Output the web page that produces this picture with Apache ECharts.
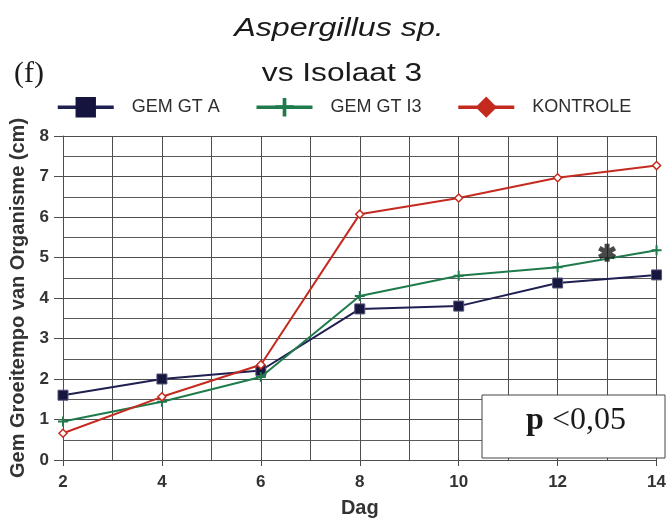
<!DOCTYPE html>
<html>
<head>
<meta charset="utf-8">
<script src="https://cdn.jsdelivr.net/npm/echarts@6/dist/echarts.min.js"></script>
<style>
  html, body { margin: 0; padding: 0; background: #fff; }
  #chart { width: 669px; height: 523px; }
</style>
</head>
<body>
<div id="chart"></div>
<script>
// Day of measurement
const days = [2, 4, 6, 8, 10, 12, 14];
// Mean growth (cm) per treatment
const gemGtA = [1.6, 2.0, 2.21, 3.73, 3.8, 4.37, 4.57];
const gemGtI3 = [0.95, 1.44, 2.05, 4.05, 4.55, 4.76, 5.18];
const kontrole = [0.66, 1.56, 2.35, 6.07, 6.47, 6.97, 7.27];
// Significance marker position [day, value]
const significance = [[13, 5.12]];
const seriesNames = ['GEM GT A', 'GEM GT I3', 'KONTROLE'];
const titleText = 'Aspergillus sp.';
const subtitleText = 'vs Isolaat 3';
const panelLabel = '(f)';

const NAVY = '#1f1f52';
const GREEN = '#1f7a4c';
const RED = '#c42a1e';
const GRIDC = '#4d4d4d';
const FONT = '"Liberation Sans", Arial, sans-serif';

const plusPath = 'path://M-1,-5H1V-1H5V1H1V5H-1V1H-5V-1H-1Z';
// six-armed asterisk drawn as stroked spokes
const starPath = 'path://M0,-5L0,5M-4.33,-2.5L4.33,2.5M-4.33,2.5L4.33,-2.5';

const pairs = arr => days.map((d, i) => [d, arr[i]]);

const chart = echarts.init(document.getElementById('chart'), null, { renderer: 'canvas' });

chart.setOption({
  animation: false,
  backgroundColor: '#ffffff',
  grid: { left: 63, right: 10, top: 136, bottom: 57, show: false },
  legend: {
    left: 56,
    top: 97,
    padding: 0,
    itemWidth: 56,
    itemHeight: 23,
    itemGap: 35,
    lineStyle: { width: 3.5 },
    textStyle: {
      fontFamily: FONT,
      fontSize: 18,
      color: '#2e2e2e',
      padding: [0, 0, 0, 13]
    },
    data: [
      { name: seriesNames[0], itemStyle: { color: '#14143e', borderColor: '#14143e' } },
      { name: seriesNames[1], itemStyle: { color: GREEN, borderColor: GREEN } },
      { name: seriesNames[2], itemStyle: { color: RED, borderColor: RED } }
    ]
  },
  xAxis: {
    type: 'value',
    min: 2,
    max: 14,
    interval: 2,
    name: 'Dag',
    nameLocation: 'middle',
    nameGap: 38,
    nameTextStyle: { fontFamily: FONT, fontSize: 20, fontWeight: 'bold', color: '#333' },
    axisLine: { show: true, onZero: false, lineStyle: { color: GRIDC, width: 1 } },
    axisTick: { show: true, length: 6, lineStyle: { color: GRIDC } },
    axisLabel: { margin: 14, fontFamily: FONT, fontSize: 17, fontWeight: 'bold', color: '#333' },
    splitLine: { show: true, lineStyle: { color: GRIDC, width: 1 } },
    minorTick: { show: false, splitNumber: 2 },
    minorSplitLine: { show: true, lineStyle: { color: GRIDC, width: 1 } }
  },
  yAxis: {
    type: 'value',
    min: 0,
    max: 8,
    interval: 1,
    name: 'Gem Groeitempo van Organisme (cm)',
    nameLocation: 'middle',
    nameGap: 28,
    nameTextStyle: { fontFamily: FONT, fontSize: 20, fontWeight: 'bold', color: '#333' },
    axisLine: { show: true, lineStyle: { color: GRIDC, width: 1 } },
    axisTick: { show: true, length: 9, lineStyle: { color: GRIDC } },
    axisLabel: { margin: 14, fontFamily: FONT, fontSize: 17, fontWeight: 'bold', color: '#333' },
    splitLine: { show: true, lineStyle: { color: GRIDC, width: 1 } },
    minorTick: { show: false, splitNumber: 2 },
    minorSplitLine: { show: true, lineStyle: { color: '#5a5a5a', width: 1 } }
  },
  series: [
    {
      name: seriesNames[0],
      type: 'line',
      data: pairs(gemGtA),
      symbol: 'rect',
      symbolSize: 10,
      lineStyle: { color: NAVY, width: 2 },
      itemStyle: { color: '#16163f', borderColor: '#55557a', borderWidth: 1 },
      z: 3
    },
    {
      name: seriesNames[1],
      type: 'line',
      data: pairs(gemGtI3),
      symbol: plusPath,
      symbolSize: 10,
      lineStyle: { color: GREEN, width: 2 },
      itemStyle: { color: GREEN, borderWidth: 0 },
      z: 4
    },
    {
      name: seriesNames[2],
      type: 'line',
      data: pairs(kontrole),
      symbol: 'diamond',
      symbolSize: 8,
      lineStyle: { color: RED, width: 2 },
      itemStyle: { color: '#ffffff', borderColor: RED, borderWidth: 1.5 },
      z: 5
    },
    {
      name: 'significance',
      type: 'scatter',
      data: significance,
      symbol: starPath,
      symbolSize: 18,
      symbolKeepAspect: true,
      itemStyle: { color: 'rgba(0,0,0,0)', borderColor: '#1c1c1c', borderWidth: 5 },
      silent: true,
      z: 6
    }
  ],
  graphic: [
    {
      type: 'text',
      x: 339, y: 29,
      scaleX: 1.24,
      style: {
        text: titleText,
        font: 'italic 26px ' + FONT,
        fill: '#1a1a1a',
        align: 'center',
        verticalAlign: 'middle'
      }
    },
    {
      type: 'text',
      x: 342, y: 74,
      scaleX: 1.22,
      style: {
        text: subtitleText,
        font: '26px ' + FONT,
        fill: '#1a1a1a',
        align: 'center',
        verticalAlign: 'middle'
      }
    },
    {
      type: 'text',
      x: 29, y: 74,
      style: {
        text: panelLabel,
        font: '30px "Liberation Serif", "Times New Roman", serif',
        fill: '#1a1a1a',
        align: 'center',
        verticalAlign: 'middle'
      }
    },
    {
      type: 'rect',
      shape: { x: 482, y: 395, width: 183, height: 63 },
      style: { fill: '#ffffff', stroke: '#444444', lineWidth: 1 },
      z: 100
    },
    {
      type: 'text',
      x: 576, y: 421,
      z: 101,
      style: {
        text: '{b|p} <0,05',
        font: '32px "Liberation Serif", "Times New Roman", serif',
        fill: '#1a1a1a',
        align: 'center',
        verticalAlign: 'middle',
        rich: {
          b: { font: 'bold 32px "Liberation Serif", "Times New Roman", serif', fill: '#1a1a1a' }
        }
      }
    }
  ]
});
</script>
</body>
</html>
